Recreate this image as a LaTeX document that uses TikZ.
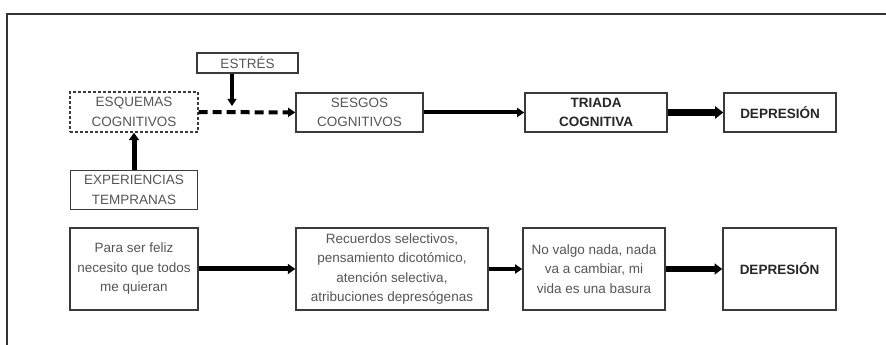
\documentclass[tikz,border=0pt]{standalone}
\usepackage{fontspec}
\setmainfont{Liberation Sans}
\usetikzlibrary{arrows.meta}
\definecolor{texto}{HTML}{555555}
\definecolor{borde}{HTML}{3A3A3A}
\begin{document}
\begin{tikzpicture}[x=1pt,y=1pt,
    caja/.style={draw=borde, line width=1.4pt, text=texto, align=center, inner sep=1pt,
      font=\fontsize{13.5}{19.5}\selectfont},
    negrita/.style={text=black!85, font=\fontsize{13.5}{19.5}\selectfont\bfseries},
    flecha/.style={-{Triangle[length=6pt 0.3, width=5pt 1]}, line width=#1},
    flecha/.default=4pt]
  \useasboundingbox (0,0) rectangle (886,345);
  \draw[line width=1.6pt, black!80] (7,0) -- (7,331) -- (886,331);
  % fila de arriba
  \node[caja, minimum width=101, minimum height=20] (estres) at (247.5,282) {ESTRÉS};
  \node[caja, dash pattern=on 3pt off 2pt, minimum width=128, minimum height=40] (esquemas) at (134,233) {ESQUEMAS\\COGNITIVOS};
  \node[caja, minimum width=127, minimum height=39] (sesgos) at (359.5,232.5) {SESGOS\\COGNITIVOS};
  \node[caja, negrita, minimum width=142, minimum height=39] (triada) at (596,232.5) {TRIADA\\COGNITIVA};
  \node[caja, negrita, minimum width=112, minimum height=39] (dep1) at (780,232.5) {DEPRESIÓN};
  \node[caja, minimum width=127, minimum height=39] (exper) at (134,155) {EXPERIENCIAS\\TEMPRANAS};
  % fila de abajo
  \node[caja, minimum width=128, minimum height=82] (creencia) at (134,76) {Para ser feliz\\necesito que todos\\me quieran};
  \node[caja, minimum width=192, minimum height=82] (recuerdos) at (392,76) {Recuerdos selectivos,\\pensamiento dicotómico,\\atención selectiva,\\atribuciones depresógenas};
  \node[caja, minimum width=142, minimum height=82] (novalgo) at (594,76) {No valgo nada, nada\\va a cambiar, mi\\vida es una basura};
  \node[caja, negrita, minimum width=113, minimum height=82] (dep2) at (779.5,76) {DEPRESIÓN};
  % flechas
  \coordinate (cruce) at (232,239);
  \draw[flecha=5pt] (exper) -- (esquemas);
  \draw[flecha] (estres.south -| cruce) -- (cruce);
  \draw[flecha, dash pattern=on 9pt off 5pt] (esquemas) -- (sesgos);
  \draw[flecha] (sesgos) -- (triada);
  \draw[flecha=7pt] (triada) -- (dep1);
  \draw[flecha=5pt] (creencia) -- (recuerdos);
  \draw[flecha] (recuerdos) -- (novalgo);
  \draw[flecha=6pt] (novalgo) -- (dep2);
\end{tikzpicture}
\end{document}
